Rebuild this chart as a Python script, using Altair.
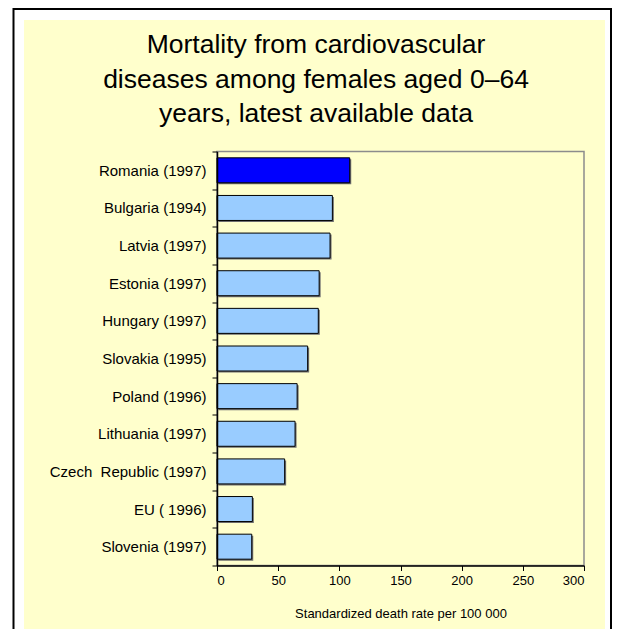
import altair as alt
import pandas as pd

# ---- data ----
countries = [
    "Romania (1997)", "Bulgaria (1994)", "Latvia (1997)", "Estonia (1997)",
    "Hungary (1997)", "Slovakia (1995)", "Poland (1996)", "Lithuania (1997)",
    "Czech\u00a0 Republic (1997)", "EU ( 1996)", "Slovenia (1997)",
]
rates = [108.5, 94.3, 92.4, 83.5, 82.8, 74.1, 65.5, 63.8, 55.3, 28.9, 28.4]
x_ticks = [0, 50, 100, 150, 200, 250, 300]
highlight = "Romania (1997)"
title_lines = [
    "Mortality from cardiovascular",
    "diseases among females aged 0\u201364",
    "years, latest available data",
]
x_title = "Standardized death rate per 100 000"

FONT = "Liberation Sans"
W, H = 367, 414

df = pd.DataFrame({"country": countries, "rate": rates})
one = pd.DataFrame({"k": [0]})

# ---- decoration: page frame, yellow panel, plot border, title ----
yellow = alt.Chart(one).mark_rect(color="#FFFFCC").encode(
    x=alt.value(-193), x2=alt.value(388), y=alt.value(-131.5), y2=alt.value(482)
)
frame = alt.Chart(one).mark_rect(fillOpacity=0, stroke="black", strokeWidth=2).encode(
    x=alt.value(-203.5), x2=alt.value(394), y=alt.value(-142.5), y2=alt.value(520)
)
plot_border = alt.Chart(one).mark_rect(fillOpacity=0, stroke="#8c8c8c", strokeWidth=1.5).encode(
    x=alt.value(0), x2=alt.value(W), y=alt.value(0), y2=alt.value(H)
)
title = alt.Chart(one).mark_text(
    font=FONT, fontSize=26.5, lineHeight=34.5, align="center", baseline="alphabetic",
    color="black",
).encode(x=alt.value(99), y=alt.value(-98.5), text=alt.value(title_lines))

y_enc = alt.Y(
    "country:N", sort=countries,
    scale=alt.Scale(paddingInner=0, paddingOuter=0),
    axis=alt.Axis(
        title=None, labelFont=FONT, labelFontSize=15, labelColor="black",
        tickColor="black", tickSize=5, tickBand="extent", domainColor="black",
        domainWidth=1.5, labelPadding=6, zindex=1,
    ),
)
x_enc = alt.X(
    "rate:Q",
    scale=alt.Scale(domain=[0, 300], nice=False),
    axis=alt.Axis(
        values=x_ticks, title=x_title, grid=False, labelFont=FONT, labelFontSize=13,
        labelColor="black", tickColor="black", tickSize=5, domainColor="black",
        domainWidth=1.5, labelPadding=4, titleFont=FONT, titleFontSize=13,
        titleFontWeight="normal", titleColor="black", titlePadding=20, zindex=1,
    ),
)

base = alt.Chart(df).encode(y=y_enc, x=x_enc)
shadow = base.mark_bar(
    height=25, color="#6e6e6e", xOffset=1.5, x2Offset=1.5, yOffset=1.5, y2Offset=1.5
)
bars = base.mark_bar(height=25, stroke="black", strokeWidth=1).encode(
    color=alt.condition(
        alt.datum.country == highlight, alt.value("#0000FF"), alt.value("#99CCFF")
    )
)

chart = (
    alt.layer(yellow, frame, plot_border, shadow, bars, title)
    .properties(
        width=W, height=H, autosize="none",
        padding={"left": 209, "top": 143.5, "right": 29, "bottom": 63.5},
        background="white",
    )
    .configure_view(strokeWidth=0)
)

chart.save("out.html", embed_options={"renderer": "svg", "actions": False})
